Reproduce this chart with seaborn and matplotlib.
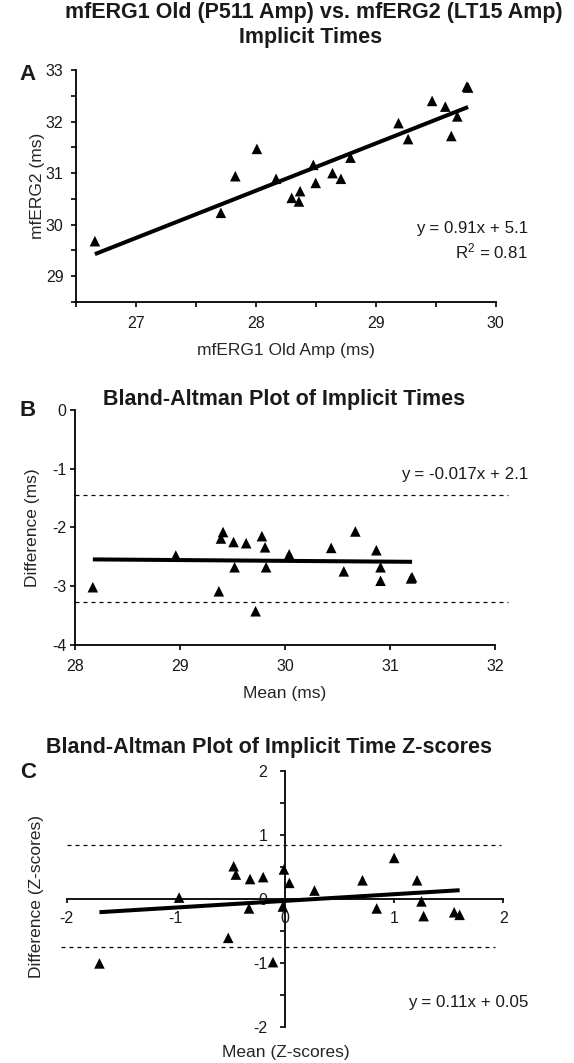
import numpy as np
import pandas as pd
import matplotlib
matplotlib.use("Agg")
import matplotlib.pyplot as plt
import seaborn as sns
from matplotlib.ticker import FixedLocator, FuncFormatter

# ---------------- data ----------------
# Panel A: mfERG1 old amp implicit time vs mfERG2 implicit time (ms)
a_old = [26.66, 27.71, 27.83, 28.01, 28.17, 28.30, 28.37, 28.36, 28.48, 28.50,
         28.64, 28.71, 28.79, 29.19, 29.27, 29.47, 29.58, 29.63, 29.68, 29.77, 29.76]
a_new = [29.68, 30.23, 30.94, 31.47, 30.89, 30.52, 30.65, 30.45, 31.16, 30.81,
         31.00, 30.89, 31.30, 31.97, 31.66, 32.40, 32.29, 31.72, 32.10, 32.66, 32.68]

# Panel B: Bland-Altman of implicit times (ms)
b_mean = [28.17, 28.96, 29.41, 29.39, 29.51, 29.63, 29.78, 29.81, 29.52, 29.82,
          29.37, 29.72, 30.04, 30.67, 30.44, 30.87, 30.56, 30.91, 30.91, 31.20, 31.21]
b_diff = [-3.02, -2.48, -2.08, -2.19, -2.25, -2.27, -2.15, -2.34, -2.68, -2.68,
          -3.09, -3.43, -2.46, -2.07, -2.35, -2.39, -2.75, -2.68, -2.91, -2.87, -2.85]
b_loa = [-1.45, -3.28]

# Panel C: Bland-Altman of implicit time z-scores
c_mean = [-1.70, -0.97, -0.47, -0.45, -0.32, -0.20, -0.33, -0.52, -0.11, -0.01,
          0.04, -0.02, 0.27, 0.71, 1.00, 1.21, 1.25, 0.84, 1.27, 1.55, 1.60]
c_diff = [-1.01, 0.02, 0.51, 0.38, 0.31, 0.34, -0.15, -0.61, -0.99, 0.46,
          0.25, -0.12, 0.13, 0.29, 0.64, 0.29, -0.04, -0.15, -0.27, -0.21, -0.25]
c_loa = [0.84, -0.76]

title_a = ["mfERG1 Old (P511 Amp) vs. mfERG2 (LT15 Amp)", "Implicit Times"]
title_b = "Bland-Altman Plot of Implicit Times"
title_c = "Bland-Altman Plot of Implicit Time Z-scores"

# ---------------- style ----------------
sns.set_theme(style="ticks")
plt.rcParams["font.family"] = ["Liberation Sans", "DejaVu Sans"]
plt.rcParams["mathtext.fontset"] = "custom"
plt.rcParams["mathtext.rm"] = "Liberation Sans"
plt.rcParams["mathtext.it"] = "Liberation Sans"
plt.rcParams["axes.unicode_minus"] = False
plt.rcParams["axes.linewidth"] = 1.3
plt.rcParams["axes.edgecolor"] = "black"
plt.rcParams["text.color"] = "#1a1a1a"

W, H = 574, 1063
fig = plt.figure(figsize=(W / 100, H / 100), dpi=100)
fig.patch.set_facecolor("white")

def px_axes(left, top, right, bottom):
    return fig.add_axes([left / W, 1 - bottom / H, (right - left) / W, (bottom - top) / H])

axA = px_axes(75.7, 70, 495.7, 302)
axB = px_axes(75, 410, 495, 644.7)
axC = px_axes(66.7, 771, 503.3, 1026.7)

TICK_FS = 11.5
LAB_FS = 12.5
ANN_FS = 12.2
TITLE_FS = 15.5
LINE_KW = dict(color="black", lw=2.9, solid_capstyle="butt")
SC_KW = dict(marker="^", s=58, color="black", edgecolor="none", linewidth=0, zorder=3)
DASH_KW = dict(color="black", lw=0.9, linestyles=(0, (3.2, 3.2)))

def int_fmt(v, pos):
    return "%d" % round(v) if abs(v - round(v)) < 1e-6 else ""

def style(ax):
    sns.despine(ax=ax)
    ax.set_facecolor("white")
    ax.tick_params(direction="out", length=3.8, width=1.2, color="black",
                   labelsize=TICK_FS, labelcolor="#1a1a1a")

# ---------------- Panel A ----------------
sns.scatterplot(x=a_old, y=a_new, ax=axA, **SC_KW)
sns.regplot(x=np.array(a_old), y=np.array(a_new), ax=axA, scatter=False, ci=None,
            truncate=True, line_kws=LINE_KW)
style(axA)
axA.set_xlim(26.5, 30)
axA.set_ylim(28.5, 33)
axA.xaxis.set_major_locator(FixedLocator(np.arange(26.5, 30.01, 0.5)))
axA.yaxis.set_major_locator(FixedLocator(np.arange(28.5, 33.01, 0.5)))
axA.xaxis.set_major_formatter(FuncFormatter(int_fmt))
axA.yaxis.set_major_formatter(FuncFormatter(int_fmt))
axA.tick_params(axis="x", pad=6.5)
axA.tick_params(axis="y", pad=5)
axA.set_xlabel("mfERG1 Old Amp (ms)", fontsize=LAB_FS)
axA.set_ylabel("mfERG2 (ms)", fontsize=LAB_FS)
axA.xaxis.set_label_coords(0.5, -0.211)
axA.xaxis.label.set_va("center")
axA.yaxis.set_label_coords(-0.092, 0.5)
axA.yaxis.label.set_va("center")
axA.yaxis.label.set_rotation_mode("anchor")
axA.text(1.077, 0.2987, "y = 0.91x + 5.1", transform=axA.transAxes, ha="right",
         va="baseline", fontsize=ANN_FS)
axA.text(1.077, 0.1884, "R$^{2}$ = 0.81", transform=axA.transAxes, ha="right",
         va="baseline", fontsize=ANN_FS)

# ---------------- Panel B ----------------
sns.scatterplot(x=b_mean, y=b_diff, ax=axB, **SC_KW)
sns.regplot(x=np.array(b_mean), y=np.array(b_diff), ax=axB, scatter=False, ci=None,
            truncate=True, line_kws=LINE_KW)
axB.hlines(b_loa, 28, 32.12, clip_on=False, **DASH_KW)
style(axB)
axB.set_xlim(28, 32)
axB.set_ylim(-4, 0)
axB.set_xticks([28, 29, 30, 31, 32])
axB.set_yticks([-4, -3, -2, -1, 0])
axB.tick_params(axis="x", pad=6.5)
axB.tick_params(axis="y", pad=2.5)
axB.set_xlabel("Mean (ms)", fontsize=LAB_FS)
axB.set_ylabel("Difference (ms)", fontsize=LAB_FS)
axB.xaxis.set_label_coords(0.5, -0.206)
axB.xaxis.label.set_va("center")
axB.yaxis.set_label_coords(-0.102, 0.5)
axB.yaxis.label.set_va("center")
axB.yaxis.label.set_rotation_mode("anchor")
axB.text(1.0786, 0.706, "y = -0.017x + 2.1", transform=axB.transAxes, ha="right",
         va="baseline", fontsize=ANN_FS)

# ---------------- Panel C ----------------
sns.scatterplot(x=c_mean, y=c_diff, ax=axC, **SC_KW)
sns.regplot(x=np.array(c_mean), y=np.array(c_diff), ax=axC, scatter=False, ci=None,
            truncate=True, line_kws=LINE_KW)
axC.hlines(c_loa[0], -2.0, 1.98, clip_on=False, **DASH_KW)
axC.hlines(c_loa[1], -2.05, 1.92, clip_on=False, **DASH_KW)
style(axC)
axC.spines["left"].set_position(("data", 0))
axC.spines["bottom"].set_position(("data", 0))
axC.set_xlim(-2, 2)
axC.set_ylim(-2, 2)
axC.set_xticks([-2, -1, 0, 1, 2])
axC.yaxis.set_major_locator(FixedLocator(np.arange(-2, 2.01, 0.5)))
axC.yaxis.set_major_formatter(FuncFormatter(int_fmt))
axC.tick_params(axis="x", pad=5.5, length=3.2)
axC.tick_params(axis="y", pad=9)
axC.set_xlabel("Mean (Z-scores)", fontsize=LAB_FS)
axC.set_ylabel("Difference (Z-scores)", fontsize=LAB_FS)
axC.xaxis.set_label_coords(0.502, -0.099)
axC.xaxis.label.set_va("center")
axC.yaxis.set_label_coords(-0.070, 0.511)
axC.yaxis.label.set_va("center")
axC.yaxis.label.set_rotation_mode("anchor")
axC.text(1.057, 0.078, "y = 0.11x + 0.05", transform=axC.transAxes, ha="right",
         va="baseline", fontsize=ANN_FS)

# ---------------- titles & panel letters ----------------
def ftext(x, y, s, **kw):
    fig.text(x / W, 1 - y / H, s, **kw)

ftext(314, 12.5, title_a[0], ha="center", va="center", fontsize=TITLE_FS, fontweight="bold")
ftext(311, 37, title_a[1], ha="center", va="center", fontsize=TITLE_FS, fontweight="bold")
ftext(284.5, 400, title_b, ha="center", va="center", fontsize=TITLE_FS, fontweight="bold")
ftext(269.5, 748, title_c, ha="center", va="center", fontsize=TITLE_FS, fontweight="bold")
ftext(28, 74, "A", ha="center", va="center", fontsize=16, fontweight="bold")
ftext(28, 411, "B", ha="center", va="center", fontsize=16, fontweight="bold")
ftext(28, 773, "C", ha="center", va="center", fontsize=16, fontweight="bold")

fig.savefig("out.png", dpi=100, facecolor="white")
